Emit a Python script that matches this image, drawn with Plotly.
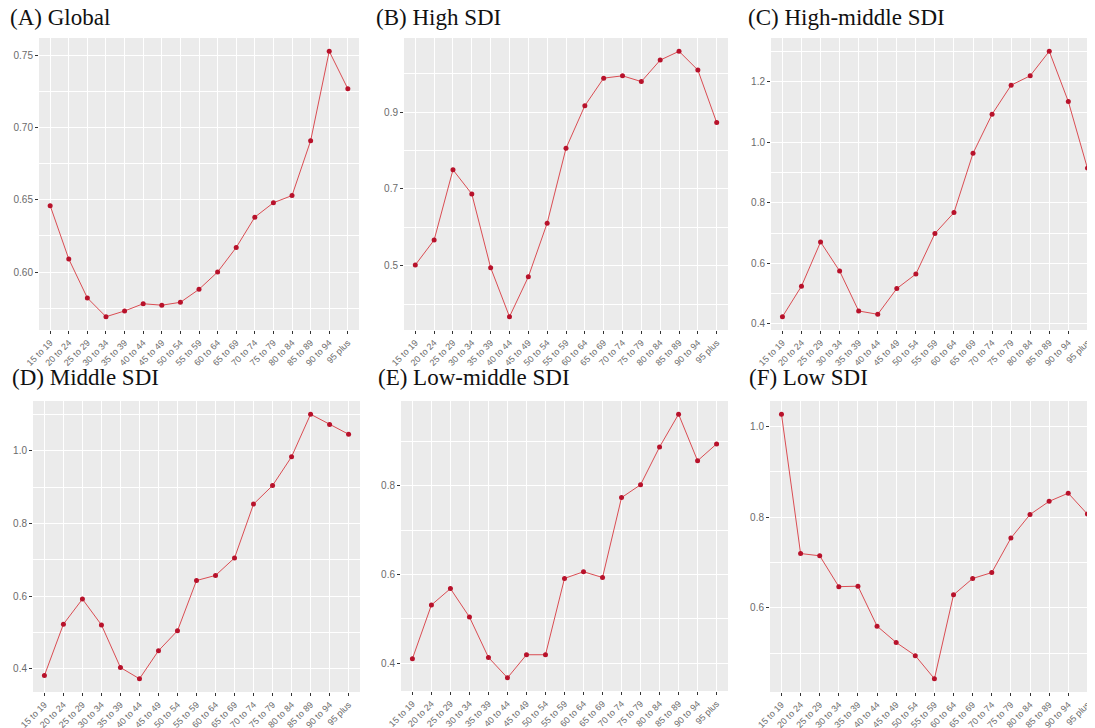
import plotly.graph_objects as go

# Grupos etarios
idades = ['15 to 19', '20 to 24', '25 to 29', '30 to 34', '35 to 39', '40 to 44',
          '45 to 49', '50 to 54', '55 to 59', '60 to 64', '65 to 69', '70 to 74',
          '75 to 79', '80 to 84', '85 to 89', '90 to 94', '95 plus']

# Valores
global_ = [0.646, 0.609, 0.582, 0.569, 0.573, 0.578, 0.577, 0.579, 0.588, 0.600,
           0.617, 0.638, 0.648, 0.653, 0.691, 0.753, 0.727]
high = [0.502, 0.567, 0.750, 0.687, 0.495, 0.367, 0.471, 0.611, 0.806, 0.917,
        0.989, 0.995, 0.980, 1.036, 1.059, 1.010, 0.873]
high_mid = [0.424, 0.525, 0.671, 0.575, 0.443, 0.432, 0.517, 0.565, 0.699, 0.768,
            0.964, 1.093, 1.189, 1.220, 1.301, 1.135, 0.915]
middle = [0.382, 0.523, 0.592, 0.521, 0.404, 0.373, 0.450, 0.505, 0.643, 0.657,
          0.705, 0.853, 0.904, 0.983, 1.100, 1.072, 1.045]
low_mid = [0.410, 0.531, 0.568, 0.504, 0.413, 0.367, 0.419, 0.419, 0.591, 0.606,
           0.593, 0.773, 0.802, 0.887, 0.961, 0.856, 0.894]
low = [1.027, 0.720, 0.715, 0.647, 0.648, 0.560, 0.524, 0.495, 0.444, 0.629,
       0.665, 0.678, 0.754, 0.806, 0.835, 0.853, 0.807]

titulos = ['(A) Global', '(B) High SDI', '(C) High-middle SDI',
           '(D) Middle SDI', '(E) Low-middle SDI', '(F) Low SDI']

# a pagina tem margem de 8px no body -> figura menor e coordenadas deslocadas
OFF = 8
W, H = 1095 - OFF, 728 - OFF


def fx(px):
    return min(max((px - OFF) / W, 0), 1)


def fy(py):
    return min(max(1 - (py - OFF) / H, 0), 1)


paineis = [
    # dados, x0, x1, y0(top), y1(bottom), xmax, tick0, dtick, formato, titulo_x, titulo_y
    (global_, 39, 359, 38, 330, 16.6, 0.60, 0.05, '.2f', 8, 18),
    (high, 404, 728, 38, 330, 16.6, 0.5, 0.2, '.1f', 374, 18),
    (high_mid, 771, 1095, 38, 330, 16.4, 0.4, 0.2, '.1f', 746, 18),
    (middle, 33, 360, 401, 692, 16.6, 0.4, 0.2, '.1f', 10, 378),
    (low_mid, 401, 728, 401, 691, 16.6, 0.4, 0.2, '.1f', 376, 378),
    (low, 770, 1095, 401, 692, 16.4, 0.6, 0.2, '.1f', 747, 378),
]

fig = go.Figure()
for i, (dados, x0, x1, yt, yb, xmax, t0, dt, fmt, tx, ty) in enumerate(paineis):
    n = i + 1
    sx = '' if n == 1 else str(n)
    fig.add_trace(go.Scatter(x=idades, y=dados, mode='lines+markers',
                             line=dict(color='#DA4D53', width=1),
                             marker=dict(color='#B8122B', size=5),
                             showlegend=False, xaxis='x' + sx, yaxis='y' + sx))
    amp = max(dados) - min(dados)
    yr = [min(dados) - 0.05 * amp, max(dados) + 0.05 * amp]
    fig.update_layout(**{
        'xaxis' + sx: dict(domain=[fx(x0), fx(x1)], anchor='y' + sx,
                           type='category', range=[-0.6, xmax], automargin=False,
                           tickangle=-45, ticks='outside', ticklen=3,
                           tickcolor='#333333', showgrid=True,
                           gridcolor='white', gridwidth=1.1, zeroline=False,
                           tickfont=dict(family='Liberation Sans', size=9, color='#6b6b6b')),
        'yaxis' + sx: dict(domain=[fy(yb), fy(yt)], anchor='x' + sx,
                           range=yr, tickmode='linear', tick0=t0, dtick=dt,
                           tickformat=fmt, ticks='outside', ticklen=3, automargin=False,
                           tickcolor='#333333', showgrid=True,
                           gridcolor='white', gridwidth=1.1, zeroline=False,
                           minor=dict(tick0=t0, dtick=dt / 2, showgrid=True,
                                      gridcolor='white', gridwidth=0.5, ticklen=0),
                           tickfont=dict(family='Liberation Sans', size=10, color='#6b6b6b')),
    })
    fig.add_annotation(text=titulos[i], xref='paper', yref='paper',
                       x=fx(tx), y=fy(ty), xanchor='left', yanchor='middle',
                       showarrow=False,
                       font=dict(family='Liberation Serif', size=23, color='#111111'))

fig.update_layout(width=W, height=H, margin=dict(l=0, r=0, t=0, b=0),
                  plot_bgcolor='#EBEBEB', paper_bgcolor='white')
fig.write_html('out.html')
